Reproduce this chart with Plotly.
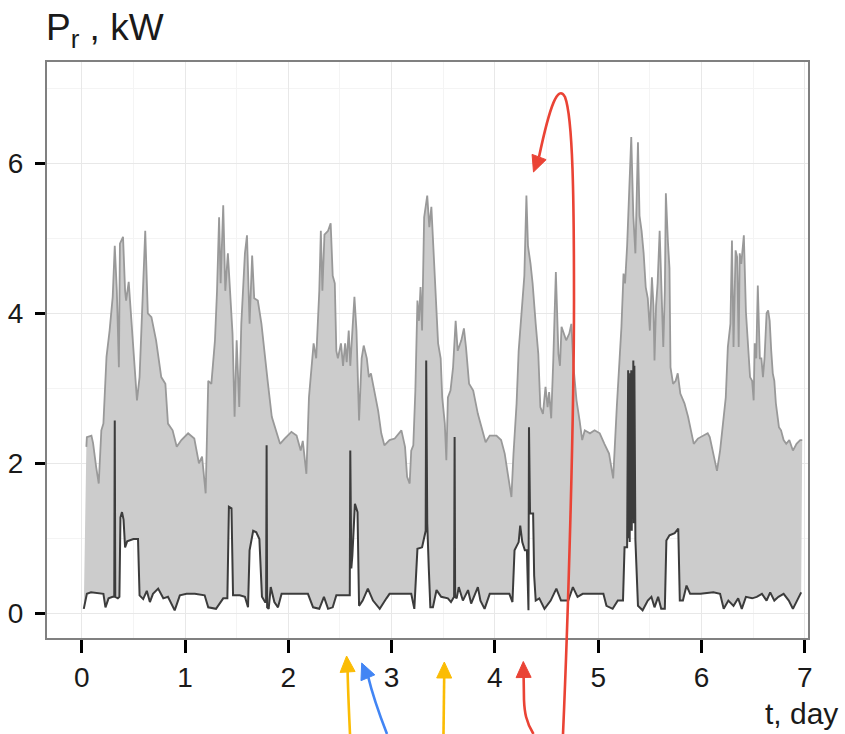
import plotly.graph_objects as go

# ---------------- data ----------------
upper_t = [0.045, 0.05, 0.094, 0.11, 0.14, 0.165, 0.19, 0.21, 0.24, 0.27, 0.30, 0.32, 0.34, 0.36, 0.37, 0.40,
           0.42, 0.43, 0.455, 0.48, 0.51, 0.535, 0.56, 0.59, 0.615, 0.64, 0.675, 0.72, 0.77, 0.81, 0.835, 0.88,
           0.92, 0.965, 1.03, 1.09, 1.135, 1.165, 1.20, 1.225, 1.255, 1.29, 1.31, 1.33, 1.345, 1.37, 1.39, 1.415,
           1.44, 1.46, 1.48, 1.50, 1.525, 1.545, 1.58, 1.60, 1.625, 1.65, 1.67, 1.705, 1.74, 1.765, 1.80, 1.84,
           1.87, 1.92, 1.965, 2.03, 2.08, 2.12, 2.14, 2.175, 2.20, 2.22, 2.245, 2.27, 2.30, 2.315, 2.33, 2.35,
           2.385, 2.41, 2.43, 2.45, 2.465, 2.48, 2.51, 2.53, 2.55, 2.565, 2.585, 2.60, 2.625, 2.64, 2.66, 2.685,
           2.71, 2.73, 2.76, 2.78, 2.80, 2.83, 2.87, 2.90, 2.93, 2.98, 3.03, 3.095, 3.13, 3.15, 3.175, 3.19,
           3.21, 3.23, 3.25, 3.265, 3.28, 3.295, 3.315, 3.345, 3.365, 3.385, 3.40, 3.425, 3.45, 3.475, 3.49,
           3.515, 3.53, 3.545, 3.57, 3.595, 3.62, 3.64, 3.675, 3.70, 3.72, 3.75, 3.79, 3.835, 3.87, 3.91, 3.95,
           4.015, 4.06, 4.095, 4.125, 4.16, 4.18, 4.21, 4.23, 4.245, 4.265, 4.285, 4.305, 4.32, 4.345, 4.365,
           4.395, 4.42, 4.44, 4.465, 4.49, 4.51, 4.525, 4.545, 4.565, 4.59, 4.615, 4.63, 4.645, 4.67, 4.69,
           4.72, 4.74, 4.76, 4.79, 4.82, 4.845, 4.87, 4.92, 4.965, 5.015, 5.06, 5.105, 5.145, 5.16, 5.18, 5.21,
           5.225, 5.245, 5.26, 5.28, 5.29, 5.32, 5.34, 5.36, 5.385, 5.40, 5.42, 5.44, 5.46, 5.48, 5.50, 5.52,
           5.535, 5.545, 5.56, 5.575, 5.595, 5.61, 5.63, 5.645, 5.655, 5.675, 5.69, 5.70, 5.725, 5.75, 5.77,
           5.795, 5.835, 5.87, 5.90, 5.925, 5.965, 6.015, 6.06, 6.08, 6.11, 6.15, 6.18, 6.21, 6.235, 6.255,
           6.28, 6.295, 6.31, 6.33, 6.345, 6.36, 6.37, 6.385, 6.41, 6.43, 6.45, 6.47, 6.49, 6.505, 6.515, 6.53,
           6.545, 6.565, 6.58, 6.595, 6.61, 6.63, 6.645, 6.66, 6.675, 6.69, 6.705, 6.72, 6.75, 6.77, 6.795,
           6.82, 6.85, 6.885, 6.92, 6.955, 6.975]
upper_p = [2.22, 2.35, 2.37, 2.27, 1.95, 1.73, 2.44, 2.53, 3.42, 3.77, 4.22, 4.90, 4.30, 3.28, 4.93, 5.02,
           4.30, 4.17, 4.42, 3.95, 3.33, 2.84, 3.15, 4.17, 5.10, 4.00, 3.95, 3.64, 3.15, 3.06, 2.53, 2.44,
           2.22, 2.31, 2.40, 2.33, 2.00, 2.09, 1.60, 3.10, 3.06, 3.64, 4.30, 5.28, 4.40, 5.44, 4.30, 4.80,
           4.20, 3.73, 2.62, 3.64, 2.75, 3.86, 4.80, 5.04, 3.86, 4.77, 4.20, 4.17, 3.86, 3.50, 3.10, 2.62,
           2.48, 2.26, 2.33, 2.42, 2.37, 2.17, 2.30, 1.86, 2.88, 3.24, 3.60, 3.40, 4.30, 5.10, 4.30, 5.05,
           5.10, 5.20, 4.50, 4.40, 3.50, 3.40, 3.60, 3.30, 3.60, 3.35, 3.77, 3.30, 3.86, 4.22, 3.77, 2.57,
           3.40, 3.57, 3.40, 3.15, 3.20, 2.97, 2.70, 2.40, 2.24, 2.31, 2.33, 2.44, 2.22, 1.82, 1.73, 2.17,
           2.24, 2.97, 4.17, 3.90, 4.35, 3.77, 5.28, 5.57, 5.15, 5.42, 5.00, 4.40, 3.60, 3.40, 2.88,
           2.53, 2.04, 2.88, 2.97, 3.28, 3.90, 3.50, 3.64, 3.80, 3.55, 3.06, 2.97, 2.66, 2.48, 2.28, 2.37,
           2.37, 2.31, 2.13, 1.86, 1.55, 2.13, 2.80, 3.50, 3.77, 4.26, 4.50, 5.57, 4.90, 4.66, 4.40,
           3.86, 3.46, 2.75, 2.66, 3.02, 2.75, 2.95, 2.60, 3.37, 4.55, 3.46, 3.30, 3.82, 3.73, 3.64,
           3.73, 3.86, 3.30, 2.84, 2.57, 2.31, 2.44, 2.40, 2.44, 2.40, 2.26, 2.13, 1.80, 2.30, 2.75, 3.46,
           3.82, 4.53, 4.40, 4.90, 5.30, 6.35, 5.30, 4.80, 6.28, 5.30, 5.10, 4.80, 4.35, 4.20, 3.77, 4.48,
           4.10, 3.37, 4.10, 4.40, 5.10, 4.35, 3.55, 4.30, 5.60, 4.95, 4.60, 3.28, 3.06, 3.10, 3.20,
           2.93, 2.80, 2.62, 2.40, 2.26, 2.33, 2.37, 2.40, 2.35, 2.17, 1.90, 2.17, 2.57, 2.88, 3.55,
           3.86, 4.97, 3.55, 4.84, 4.75, 3.55, 4.80, 4.66, 5.04, 4.02, 3.55, 3.15, 3.10, 2.84, 3.60, 3.40,
           4.37, 3.40, 3.40, 3.15, 3.40, 4.00, 4.04, 3.90, 3.50, 3.20, 3.10, 2.80, 2.48, 2.44, 2.31,
           2.26, 2.31, 2.17, 2.26, 2.31, 2.31]

lower_t = [0.02, 0.05, 0.09, 0.15, 0.21, 0.23, 0.26, 0.30, 0.315, 0.32, 0.325, 0.35, 0.365, 0.375, 0.39, 0.405,
           0.42, 0.44, 0.50, 0.545, 0.56, 0.595, 0.63, 0.66, 0.69, 0.74, 0.79, 0.835, 0.87, 0.90, 0.95, 1.015,
           1.095, 1.19, 1.225, 1.30, 1.37, 1.41, 1.425, 1.45, 1.465, 1.53, 1.58, 1.61, 1.625, 1.66, 1.69, 1.72,
           1.745, 1.775, 1.785, 1.79, 1.795, 1.81, 1.83, 1.865, 1.90, 1.935, 2.03, 2.19, 2.24, 2.30, 2.345,
           2.385, 2.43, 2.465, 2.58, 2.595, 2.60, 2.61, 2.62, 2.645, 2.67, 2.68, 2.685, 2.72, 2.77, 2.82,
           2.885, 2.95, 2.98, 3.09, 3.19, 3.22, 3.25, 3.295, 3.315, 3.33, 3.335, 3.345, 3.36, 3.375, 3.40,
           3.435, 3.48, 3.545, 3.575, 3.60, 3.605, 3.61, 3.615, 3.63, 3.65, 3.69, 3.74, 3.77, 3.835, 3.86,
           3.90, 3.95, 4.14, 4.17, 4.19, 4.23, 4.245, 4.265, 4.29, 4.31, 4.32, 4.325, 4.33, 4.34, 4.37, 4.38,
           4.395, 4.43, 4.48, 4.54, 4.595, 4.64, 4.71, 4.755, 4.80, 4.85, 4.92, 4.98, 5.05, 5.08, 5.14, 5.19,
           5.24, 5.255, 5.28, 5.29, 5.295, 5.30, 5.305, 5.31, 5.315, 5.32, 5.325, 5.33, 5.335, 5.34, 5.345,
           5.35, 5.355, 5.36, 5.385, 5.43, 5.48, 5.515, 5.545, 5.58, 5.61, 5.645, 5.66, 5.69, 5.74, 5.775,
           5.79, 5.82, 5.855, 5.89, 5.99, 6.115, 6.18, 6.215, 6.26, 6.31, 6.355, 6.39, 6.43, 6.49, 6.535,
           6.585, 6.63, 6.665, 6.705, 6.745, 6.795, 6.845, 6.885, 6.925, 6.965]
lower_p = [0.06, 0.26, 0.28, 0.27, 0.26, 0.08, 0.20, 0.22, 0.22, 2.57, 0.22, 0.20, 0.22, 1.28, 1.35, 1.25,
           0.88, 0.96, 0.99, 0.99, 0.24, 0.19, 0.30, 0.15, 0.26, 0.33, 0.20, 0.22, 0.12, 0.04, 0.24, 0.26,
           0.26, 0.24, 0.08, 0.06, 0.20, 0.20, 1.42, 1.40, 0.24, 0.24, 0.22, 0.08, 0.84, 1.10, 1.08, 0.99,
           0.22, 0.15, 0.15, 2.24, 0.08, 0.06, 0.35, 0.15, 0.08, 0.26, 0.26, 0.26, 0.08, 0.06, 0.22,
           0.06, 0.08, 0.24, 0.24, 0.24, 2.17, 0.60, 0.77, 1.46, 1.35, 0.40, 0.10, 0.17, 0.33, 0.17,
           0.06, 0.20, 0.26, 0.26, 0.26, 0.06, 0.86, 0.88, 1.02, 1.10, 3.37, 1.20, 0.60, 0.08, 0.08,
           0.31, 0.22, 0.20, 0.15, 0.22, 0.22, 2.35, 0.22, 0.20, 0.35, 0.17, 0.31, 0.13, 0.35, 0.17,
           0.06, 0.26, 0.26, 0.15, 0.84, 0.95, 1.17, 0.95, 0.84, 0.84, 0.04, 0.04, 2.48, 1.33, 1.33, 0.50,
           0.17, 0.20, 0.06, 0.17, 0.33, 0.17, 0.17, 0.35, 0.22, 0.26, 0.26, 0.26, 0.26, 0.10, 0.06, 0.17,
           0.17, 0.88, 0.88, 3.24, 1.00, 3.10, 0.95, 3.20, 1.20, 3.24, 1.10, 3.00, 1.30, 3.37, 1.20,
           3.30, 1.00, 0.98, 0.10, 0.04, 0.17, 0.22, 0.08, 0.22, 0.06, 0.06, 0.97, 1.04, 1.07, 1.13,
           0.17, 0.17, 0.37, 0.26, 0.26, 0.28, 0.26, 0.06, 0.17, 0.10, 0.20, 0.06, 0.22, 0.20, 0.22,
           0.26, 0.17, 0.28, 0.17, 0.22, 0.26, 0.17, 0.06, 0.17, 0.28]

x_ticks = [0, 1, 2, 3, 4, 5, 6, 7]
y_ticks = [0, 2, 4, 6]
title_text = "P<sub>r</sub> , kW"
x_title = "t, day"

# ---------------- layout geometry ----------------
W, H = 845, 734
PL, PR, PT, PB = 47, 808, 62, 638
X_RANGE = [-0.336, 7.031]
Y_RANGE = [-0.329, 7.351]


def fx(X):
    return (X - PL) / (PR - PL)


def fy(Y):
    return (PB - Y) / (PB - PT)


def pt(X, Y):
    return f"{fx(X):.5f},{fy(Y):.5f}"


fig = go.Figure()
fig.add_trace(go.Scatter(x=lower_t, y=lower_p, mode="lines", line=dict(width=0, color="rgba(0,0,0,0)"),
                         hoverinfo="skip", showlegend=False))
fig.add_trace(go.Scatter(x=upper_t, y=upper_p, mode="lines", fill="tonexty", fillcolor="#cccccc",
                         line=dict(color="#999999", width=1.8), showlegend=False))
fig.add_trace(go.Scatter(x=lower_t, y=lower_p, mode="lines", line=dict(color="#3c3c3c", width=2),
                         showlegend=False))

# ---------------- hand-drawn arrows (decoration) ----------------
shapes = []


def arrow(path_pts, tip, frm, color, L=16, w=7.5):
    import math
    shapes.append(dict(type="path", xref="paper", yref="paper", path=path_pts,
                       line=dict(color=color, width=2.6), layer="above"))
    dx, dy = tip[0] - frm[0], tip[1] - frm[1]
    n = math.hypot(dx, dy)
    ux, uy = dx / n, dy / n
    bx, by = tip[0] - ux * L, tip[1] - uy * L
    px, py = -uy, ux
    p1 = (bx + px * w, by + py * w)
    p2 = (bx - px * w, by - py * w)
    shapes.append(dict(type="path", xref="paper", yref="paper",
                       path=f"M{pt(*tip)} L{pt(*p1)} L{pt(*p2)} Z",
                       fillcolor=color, line=dict(color=color, width=1), layer="above"))


YEL, BLU, RED = "#FBBC04", "#4285F4", "#EA4335"
arrow(f"M{pt(350,734)} C{pt(349,712)} {pt(348,692)} {pt(347.6,670)}", (346.6, 656), (347.6, 672), YEL)
arrow(f"M{pt(387,734)} C{pt(380,716)} {pt(373,697)} {pt(368,676)}", (361.7, 663), (368, 678), BLU)
arrow(f"M{pt(443.5,734)} L{pt(444.2,676)}", (444.3, 662), (444.2, 678), YEL)
arrow(f"M{pt(533.5,734)} C{pt(526,722)} {pt(524.5,712)} {pt(524,700)} L{pt(523.6,675)}",
      (523.3, 661.5), (523.6, 677), RED)
arrow(f"M{pt(563,734)} C{pt(568,620)} {pt(574,420)} {pt(574,300)} C{pt(574,200)} {pt(573,118)} {pt(565,97)} "
      f"C{pt(558,84)} {pt(550,105)} {pt(539,157)}", (533.5, 172), (539.5, 156), RED)

FONT = "Liberation Sans, Arial, sans-serif"
fig.update_layout(
    width=W, height=H,
    margin=dict(l=PL, r=W - PR, t=PT, b=H - PB, pad=0, autoexpand=False),
    paper_bgcolor="white", plot_bgcolor="white",
    font=dict(family=FONT, color="#1a1a1a"),
    shapes=shapes,
    annotations=[
        dict(text=title_text, xref="paper", yref="paper", x=fx(44), y=fy(55), xanchor="left",
             yanchor="bottom", showarrow=False, font=dict(size=37, color="#1a1a1a", family=FONT)),
        dict(text=x_title, xref="paper", yref="paper", x=fx(840), y=fy(732), xanchor="right",
             yanchor="bottom", showarrow=False, font=dict(size=30, color="#1a1a1a", family=FONT)),
    ],
)
fig.update_xaxes(range=X_RANGE, tickvals=x_ticks, ticktext=[str(v) for v in x_ticks], automargin=False,
                 ticks="outside", ticklen=13, tickwidth=3, tickcolor="black",
                 tickfont=dict(size=28, color="#1a1a1a", family=FONT),
                 showgrid=True, gridcolor="#e8e8e8", gridwidth=1.2, zeroline=False,
                 showline=True, linecolor="#808080", linewidth=2, mirror=True,
                 minor=dict(dtick=0.5, tick0=0, showgrid=True, gridcolor="#f4f4f4", gridwidth=1.2, ticks=""))
fig.update_yaxes(range=Y_RANGE, tickvals=y_ticks, ticktext=[str(v) for v in y_ticks], automargin=False,
                 ticks="outside", ticklen=10, tickwidth=3, tickcolor="black",
                 tickfont=dict(size=28, color="#1a1a1a", family=FONT), ticklabelstandoff=6,
                 showgrid=True, gridcolor="#e8e8e8", gridwidth=1.2, zeroline=False,
                 showline=True, linecolor="#808080", linewidth=2, mirror=True,
                 minor=dict(dtick=1, tick0=0, showgrid=True, gridcolor="#f4f4f4", gridwidth=1.2, ticks=""))

fig.write_html("out.html", config={"displayModeBar": False},
               post_script="document.body.style.margin='0px';")
